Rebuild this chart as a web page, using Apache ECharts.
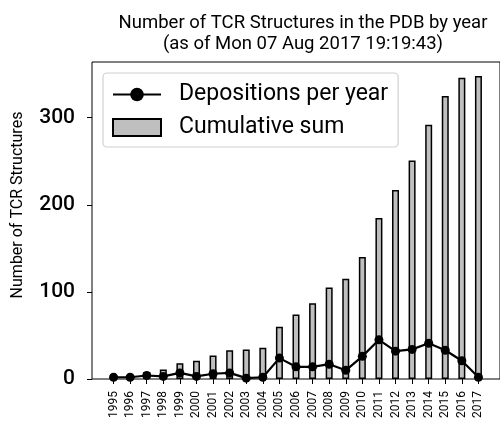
<!DOCTYPE html>
<html>
<head>
<meta charset="utf-8">
<script src="https://cdn.jsdelivr.net/npm/echarts@6/dist/echarts.min.js"></script>
<style>
html,body{margin:0;padding:0;background:#fff;}
#c{width:500px;height:427px;}
</style>
</head>
<body>
<div id="c"></div>
<script>
const years = [1995,1996,1997,1998,1999,2000,2001,2002,2003,2004,2005,2006,2007,2008,2009,2010,2011,2012,2013,2014,2015,2016,2017];
const depositions = [2,2,4,3,7,3,6,7,1,2,24,14,14,17,10,26,45,32,34,41,33,21,2];
const cumulative = [2,4,8,11,18,21,27,33,34,36,60,74,87,105,115,140,185,217,251,292,325,346,348];
const yTicks = [0,100,200,300];

const chart = echarts.init(document.getElementById('c'), null, {renderer:'canvas'});
const FONT = 'Roboto';
chart.setOption({
  animation:false,
  backgroundColor:'#fff',
  title:{
    text:'Number of TCR Structures in the PDB by year\n(as of Mon 07 Aug 2017 19:19:43)',
    left:298, top:8, textAlign:'center',
    textStyle:{fontFamily:FONT,fontSize:18.5,fontWeight:'normal',color:'#000',lineHeight:21}
  },
  legend:{
    orient:'vertical', left:103, top:73,
    padding:[10,10,8,9],
    itemWidth:48, itemHeight:17, itemGap:10,
    borderColor:'#d0d0d0', borderWidth:1.2, borderRadius:4,
    backgroundColor:'rgba(255,255,255,0.8)',
    textStyle:{fontFamily:FONT,fontSize:23,color:'#000',lineHeight:17,padding:[0,0,0,13]},
    data:[
      {name:'Depositions per year'},
      {name:'Cumulative sum', icon:'rect'}
    ]
  },
  graphic:[{
    type:'text', x:18, y:205, rotation:Math.PI/2,
    style:{text:'Number of TCR Structures', font:'16px Roboto', fill:'#000', textAlign:'center', textVerticalAlign:'middle'}
  }],
  grid:{left:92, top:62, width:412.3, height:317, show:true, borderColor:'#000', borderWidth:1, backgroundColor:'transparent'},
  xAxis:{
    type:'value', min:1993.7, max:2018.3,
    axisLine:{show:false},
    splitLine:{show:false},
    axisTick:{show:true, customValues:years, length:5, lineStyle:{color:'#000',width:1}},
    axisLabel:{show:true, customValues:years, rotate:90, fontFamily:FONT, fontSize:12, color:'#000', margin:12,
      formatter:v=>String(v)}
  },
  yAxis:{
    type:'value', min:0, max:364,
    axisLine:{show:false},
    splitLine:{show:false},
    axisTick:{show:true, customValues:yTicks, length:5, lineStyle:{color:'#000',width:1}},
    axisLabel:{show:true, customValues:yTicks, fontFamily:FONT, fontSize:21, fontWeight:500, color:'#000', margin:17}
  },
  series:[
    {
      name:'Cumulative sum', type:'bar', barWidth:7, z:2,
      itemStyle:{color:'#bfbfbf', borderColor:'#000', borderWidth:1.5},
      data:years.map((y,i)=>[y,cumulative[i]])
    },
    {
      name:'Depositions per year', type:'line', z:5,
      symbol:'circle', symbolSize:9, showSymbol:true,
      lineStyle:{color:'#000',width:2.2},
      itemStyle:{color:'#000'},
      data:years.map((y,i)=>[y,depositions[i]])
    }
  ]
});
</script>
</body>
</html>
